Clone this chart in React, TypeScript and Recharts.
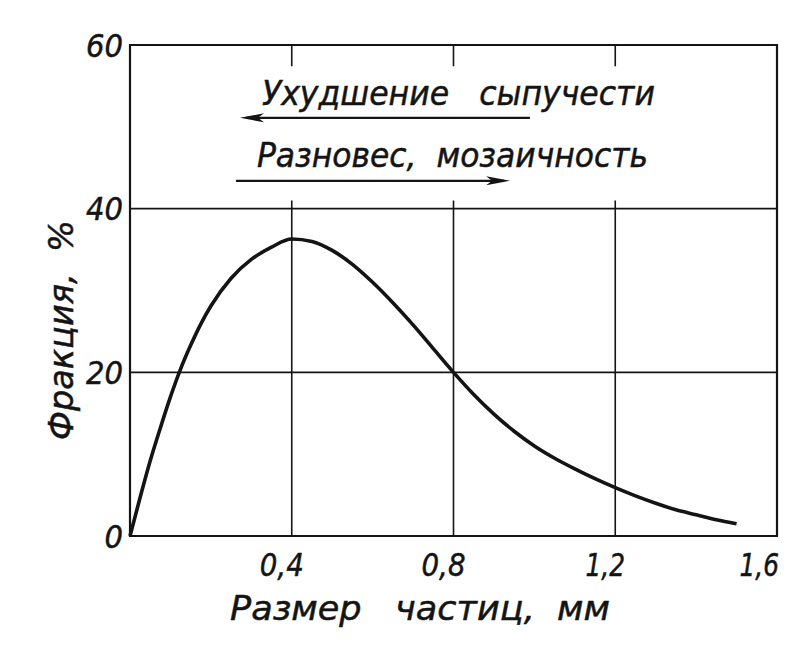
import React from "react";
import {
  LineChart,
  Line,
  XAxis,
  YAxis,
  ReferenceLine,
  ReferenceArea,
} from "recharts";

// particle size, mm
const sizes = [
  0, 0.025, 0.05, 0.075, 0.1, 0.125, 0.15, 0.175, 0.2, 0.25, 0.3, 0.35, 0.4,
  0.45, 0.5, 0.55, 0.6, 0.65, 0.7, 0.75, 0.8, 0.85, 0.9, 0.95, 1.0, 1.05, 1.1,
  1.15, 1.2, 1.25, 1.3, 1.35, 1.4, 1.45, 1.5,
];
// fraction, %
const fractions = [
  0, 4.7, 9.2, 13.2, 17.0, 20.4, 23.3, 25.9, 28.1, 31.5, 33.8, 35.3, 36.3,
  36.0, 34.9, 33.2, 31.0, 28.5, 25.8, 22.9, 20.0, 17.3, 14.9, 12.8, 11.0, 9.5,
  8.2, 7.0, 5.9, 4.9, 4.0, 3.2, 2.6, 2.0, 1.5,
];

const xTicks = [0.4, 0.8, 1.2, 1.6];
const yTicks = [0, 20, 40, 60];
const gridX = [0.4, 0.8, 1.2];
const gridY = [20, 40];

const data = sizes.map((x, i) => ({ x, y: fractions[i] }));

const INK = "#141414";
const FONT = "'DejaVu Sans', sans-serif";

const textStyle = {
  fontFamily: FONT,
  fontStyle: "italic" as const,
  fill: INK,
  stroke: INK,
  strokeWidth: 0.5,
  whiteSpace: "pre" as const,
};

// arrow annotations (data coordinates)
const arrows = [
  {
    from: 0.989,
    to: 0.272,
    y: 51.1,
    text: "Ухудшение   сыпучести",
    textDx: 22,
    textDy: -13,
    textLen: 393,
  },
  {
    from: 0.262,
    to: 0.94,
    y: 43.4,
    text: "Разновес,  мозаичность",
    textDx: 21,
    textDy: -14,
    textLen: 391,
  },
];

const arrowShape = (a: (typeof arrows)[number]) => (props: any) => {
  const { x1, y1, x2, y2 } = props;
  const dir = x2 > x1 ? 1 : -1;
  const left = Math.min(x1, x2);
  const hx = x2;
  const hy = y2;
  return (
    <g>
      <line x1={x1} y1={y1} x2={x2 - dir * 6} y2={y2} stroke={INK} strokeWidth={2.4} />
      <path
        d={`M${hx},${hy} L${hx - dir * 24},${hy - 4.5} L${hx - dir * 18},${hy} L${hx - dir * 24},${hy + 4.5} Z`}
        fill={INK}
      />
      <text
        x={left + a.textDx}
        y={y1 + a.textDy}
        fontSize={33}
        style={textStyle}
        textLength={a.textLen}
        lengthAdjust="spacingAndGlyphs"
      >
        {a.text}
      </text>
    </g>
  );
};

const fmt = (v: number) => String(v).replace(".", ",");

// narrow tick text, like the drafting font of the original
const tickWidth = (s: string) =>
  s.split("").reduce((w, c) => w + (c === "," ? 7 : c === "1" ? 14 : 18.5), 0);

const XTick = (props: any) => {
  const { x, y, payload } = props;
  const s = fmt(payload.value);
  const w = tickWidth(s);
  const cx = Math.min(x - 10, 779 - w / 2);
  return (
    <text
      x={cx}
      y={y}
      dy="0.71em"
      textAnchor="middle"
      fontSize={32}
      style={textStyle}
      textLength={w}
      lengthAdjust="spacingAndGlyphs"
    >
      {s}
    </text>
  );
};

const YTick = (props: any) => {
  const { x, y, payload } = props;
  const s = fmt(payload.value);
  return (
    <text
      x={x}
      y={y}
      dy="0.36em"
      textAnchor="end"
      fontSize={32}
      style={textStyle}
      textLength={tickWidth(s)}
      lengthAdjust="spacingAndGlyphs"
    >
      {s}
    </text>
  );
};

export default function App() {
  return (
    <div style={{ position: "absolute", left: 0, top: 0, background: "#fff" }}>
      <LineChart
        width={790}
        height={651}
        data={data}
        margin={{ top: 45, right: 13, left: 0, bottom: 25 }}
      >
        <XAxis
          dataKey="x"
          type="number"
          domain={[0, 1.6]}
          ticks={xTicks}
          axisLine={false}
          tickLine={false}
          tickSize={0}
          tickMargin={17}
          height={90}
          tick={<XTick />}
          label={{
            content: (p: any) => {
              const vb = p.viewBox;
              return (
                <text
                  x={vb.x + 100}
                  y={vb.y + vb.height - 6}
                  fontSize={33}
                  style={textStyle}
                  textLength={380}
                  lengthAdjust="spacingAndGlyphs"
                >
                  {"Размер   частиц,  мм"}
                </text>
              );
            },
          }}
        />
        <YAxis
          type="number"
          domain={[0, 60]}
          ticks={yTicks}
          axisLine={false}
          tickLine={false}
          tickSize={0}
          tickMargin={7}
          width={130}
          tick={<YTick />}
          label={{
            content: (p: any) => {
              const vb = p.viewBox;
              const cx = vb.x + 73;
              const cy = vb.y + 285;
              return (
                <text
                  x={cx}
                  y={cy}
                  transform={`rotate(-90 ${cx} ${cy})`}
                  textAnchor="middle"
                  fontSize={33}
                  style={textStyle}
                  textLength={220}
                  lengthAdjust="spacingAndGlyphs"
                >
                  {"Фракция,  %"}
                </text>
              );
            },
          }}
        />
        <ReferenceArea
          x1={0}
          x2={1.6}
          y1={0}
          y2={60}
          fill="none"
          stroke={INK}
          strokeWidth={2.2}
        />
        {gridY.map((v) => (
          <ReferenceLine key={`gy${v}`} y={v} stroke={INK} strokeWidth={1.8} />
        ))}
        {gridX.map((v) => (
          <ReferenceLine
            key={`gx${v}`}
            segment={[
              { x: v, y: 0 },
              { x: v, y: 41 },
            ]}
            stroke={INK}
            strokeWidth={1.6}
          />
        ))}
        {gridX.map((v) => (
          <ReferenceLine
            key={`tx${v}`}
            segment={[
              { x: v, y: 60 },
              { x: v, y: 57.4 },
            ]}
            stroke={INK}
            strokeWidth={1.6}
          />
        ))}
        {arrows.map((a, i) => (
          <ReferenceLine
            key={`ar${i}`}
            segment={[
              { x: a.from, y: a.y },
              { x: a.to, y: a.y },
            ]}
            shape={arrowShape(a)}
          />
        ))}
        <Line
          type="monotone"
          dataKey="y"
          stroke={INK}
          strokeWidth={3.6}
          dot={false}
          isAnimationActive={false}
        />
      </LineChart>
    </div>
  );
}
